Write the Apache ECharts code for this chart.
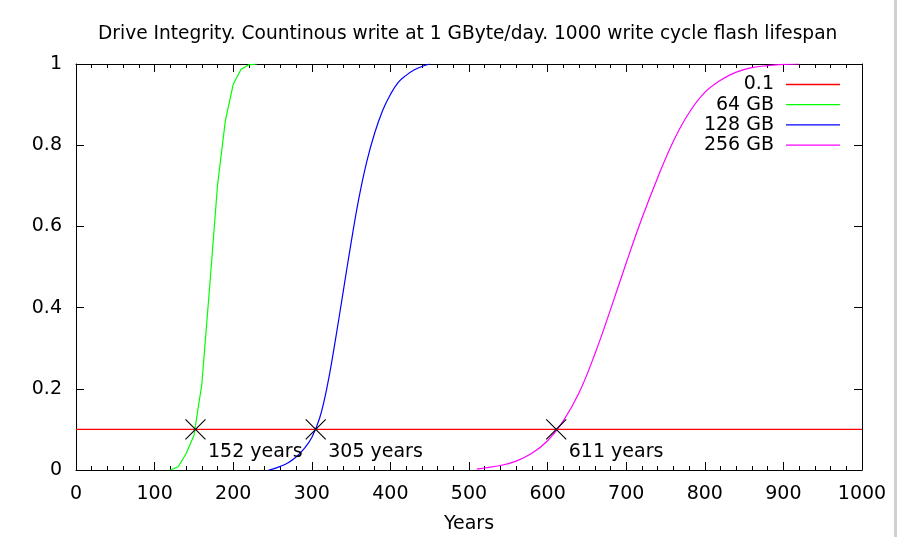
<!DOCTYPE html>
<html>
<head>
<meta charset="utf-8">
<script src="https://cdn.jsdelivr.net/npm/echarts@6/dist/echarts.min.js"></script>
<style>
  html, body { margin: 0; padding: 0; background: #fff; }
  #chart { width: 897px; height: 537px; }
</style>
</head>
<body>
<div id="chart"></div>
<script>
/**
 * data
 */
var threshold = 0.1;
var thresholdYears = [0, 1000];

// 64 GB
var years64 = [120, 130, 140, 150, 160, 170, 180, 190, 200, 210, 220, 230];
var vals64  = [0, 0.008, 0.04, 0.085, 0.21, 0.45, 0.70, 0.86, 0.95, 0.987, 0.998, 1];

// 128 GB
var years128 = [245, 250, 260, 270, 280, 290, 300, 310, 320, 330, 340, 350, 360, 370, 380, 390, 400, 410, 420, 430, 440, 450];
var vals128  = [0, 0.002, 0.009, 0.018, 0.032, 0.052, 0.08, 0.128, 0.21, 0.32, 0.44, 0.56, 0.67, 0.76, 0.83, 0.885, 0.925, 0.955, 0.972, 0.985, 0.994, 1];

// 256 GB
var years256 = [510, 520, 540, 560, 580, 600, 620, 640, 660, 680, 700, 720, 740, 760, 780, 800, 820, 840, 860, 880, 900, 920];
var vals256  = [0.002, 0.005, 0.011, 0.022, 0.041, 0.072, 0.121, 0.19, 0.285, 0.395, 0.51, 0.62, 0.72, 0.81, 0.88, 0.93, 0.96, 0.98, 0.991, 0.996, 0.999, 1];

// crossing points with the 0.1 line
var crossYears = [152, 305, 611];

var xTicks = { min: 0, max: 1000, interval: 100 };
var yTicks = { min: 0, max: 1, interval: 0.2 };

function pairs(xs, ys){
    var out = [];
    for (var i = 0; i < xs.length; i++) out.push([xs[i], ys[i]]);
    return out;
}

var font = 'DejaVu Sans';
var chart = echarts.init(document.getElementById('chart'));

function xAxisDef(pos, showLabel){
    return {
        type: 'value',
        position: pos,
        min: xTicks.min, max: xTicks.max, interval: xTicks.interval,
        name: showLabel ? 'Years' : '',
        nameLocation: 'middle',
        nameGap: 45,
        nameTextStyle: { color: '#000', fontFamily: font, fontSize: 19 },
        axisLine: { show: true, onZero: false, lineStyle: { color: '#000', width: 1 } },
        axisTick: { show: true, inside: true, length: 8, lineStyle: { color: '#000' } },
        minorTick: { show: true, splitNumber: 5, length: 4, lineStyle: { color: '#000' } },
        axisLabel: {
            show: showLabel, color: '#000', fontFamily: font, fontSize: 19, margin: 15,
            formatter: function(v){ return String(v); }
        },
        splitLine: { show: false }
    };
}
function yAxisDef(pos, showLabel){
    return {
        type: 'value',
        position: pos,
        min: yTicks.min, max: yTicks.max, interval: yTicks.interval,
        axisLine: { show: true, onZero: false, lineStyle: { color: '#000', width: 1 } },
        axisTick: { show: true, inside: true, length: 8, lineStyle: { color: '#000' } },
        axisLabel: {
            show: showLabel, color: '#000', fontFamily: font, fontSize: 19, margin: 14,
            padding: [3, 0, 0, 0],
            formatter: function(v){ return String(v); }
        },
        splitLine: { show: false }
    };
}

var option = {
    animation: false,
    backgroundColor: '#fff',
    title: {
        text: 'Drive Integrity. Countinous write at 1 GByte/day. 1000 write cycle flash lifespan',
        left: 93,
        top: 20,
        textStyle: { color: '#000', fontFamily: font, fontSize: 18.6, fontWeight: 'normal' }
    },
    grid: { left: 76, right: 35, top: 64, bottom: 67, outerBoundsMode: 'none' },
    legend: {
        orient: 'vertical',
        right: 52,
        top: 70,
        align: 'right',
        icon: 'rect',
        itemWidth: 54,
        itemHeight: 1.3,
        itemGap: 1.2,
        textStyle: { color: '#000', fontFamily: font, fontSize: 19, padding: [0, 7, 0, 0] },
        data: ['0.1', '64 GB', '128 GB', '256 GB']
    },
    xAxis: [xAxisDef('bottom', true), xAxisDef('top', false)],
    yAxis: [yAxisDef('left', true), yAxisDef('right', false)],
    graphic: [{
        type: 'rect',
        shape: { x: 894, y: 0, width: 3, height: 537 },
        style: { fill: '#d0d0d0' }
    }],
    series: [
        {
            name: '0.1', type: 'line', symbol: 'none',
            lineStyle: { color: '#ff0000', width: 1.1 }, itemStyle: { color: '#ff0000' },
            data: pairs(thresholdYears, [threshold, threshold])
        },
        {
            name: '64 GB', type: 'line', symbol: 'none',
            lineStyle: { color: '#00ff00', width: 1.2 }, itemStyle: { color: '#00ff00' },
            data: pairs(years64, vals64)
        },
        {
            name: '128 GB', type: 'line', symbol: 'none', smooth: 0.4,
            lineStyle: { color: '#0000ff', width: 1.2 }, itemStyle: { color: '#0000ff' },
            data: pairs(years128, vals128)
        },
        {
            name: '256 GB', type: 'line', symbol: 'none', smooth: 0.4,
            lineStyle: { color: '#ff00ff', width: 1.2 }, itemStyle: { color: '#ff00ff' },
            data: pairs(years256, vals256)
        },
        {
            name: 'cross', type: 'scatter',
            symbol: 'path://M0,0L10,10M10,0L0,10',
            symbolSize: 20,
            z: 5,
            itemStyle: { color: 'none', borderColor: '#000', borderWidth: 1.1, opacity: 1 },
            label: {
                show: true,
                position: [25, 26],
                color: '#000', fontFamily: font, fontSize: 19, opacity: 1,
                formatter: function(p){ return p.value[0] + ' years'; }
            },
            data: pairs(crossYears, crossYears.map(function(){ return threshold; }))
        }
    ]
};
chart.setOption(option);
</script>
</body>
</html>
